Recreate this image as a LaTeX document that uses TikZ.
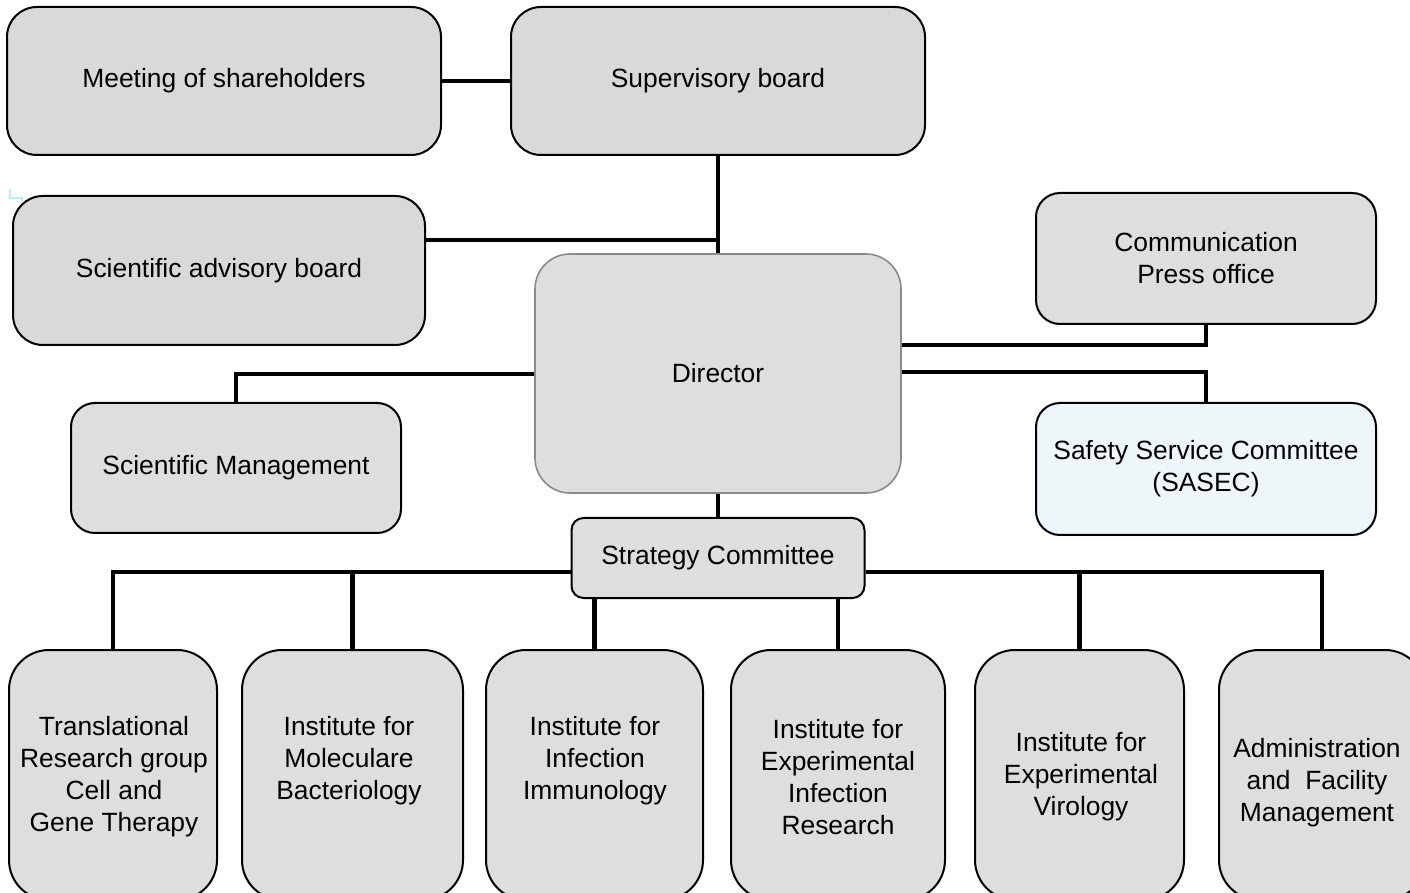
\documentclass[tikz,border=0pt]{standalone}
\usepackage{fontspec}
\setmainfont{Liberation Sans}
\usetikzlibrary{positioning}
\definecolor{boxgray}{HTML}{D9D9D9}
\definecolor{unitgray}{HTML}{DEDEDE}
\definecolor{safetyblue}{HTML}{EEF6F9}
\definecolor{dirborder}{HTML}{8A8A8A}

\tikzset{
  orgbox/.style={draw=black, line width=1pt, fill=boxgray, align=center, inner sep=0pt, rounded corners=15pt},
  unitbox/.style={orgbox, fill=unitgray, minimum height=125pt, rounded corners=20pt},
  boxtext/.style={align=center, inner sep=0pt},
  conn/.style={line width=2.4pt},
}

\begin{document}
\begin{tikzpicture}[x=0.5pt, y=-0.5pt, font=\fontsize{13.2}{16}\selectfont]
  \clip (0,0) rectangle (1410,893);
  \fill[white] (0,0) rectangle (1410,893);

  % top level
  \node[orgbox, minimum width=217pt, minimum height=74pt] (msh) at (224,81) {Meeting of shareholders};
  \node[orgbox, minimum width=207pt, minimum height=74pt] (sb) at (718,81) {Supervisory board};
  \node[orgbox, minimum width=206pt, minimum height=74.5pt] (sab) at (219,270.5) {Scientific advisory board};
  \node[orgbox, fill=unitgray, draw=dirborder, line width=0.8pt, rounded corners=17.5pt,
        minimum width=183pt, minimum height=119.5pt] (dir) at (718,373.5) {Director};
  \node[orgbox, fill=unitgray, rounded corners=12pt, minimum width=170pt, minimum height=65.5pt] (cpo) at (1206,258.5) {Communication\\Press office};
  \node[orgbox, fill=safetyblue, rounded corners=12pt, minimum width=170pt, minimum height=66pt] (sasec) at (1206,469) {Safety Service Committee\\(SASEC)};
  \node[orgbox, fill=unitgray, rounded corners=12pt, minimum width=165pt, minimum height=65pt] (smg) at (236,468) {Scientific Management};
  \node[orgbox, fill=unitgray, rounded corners=6pt, minimum width=146.5pt, minimum height=40pt] (sc) at (718,558) {Strategy Committee};

  % units
  \foreach \nm/\cx/\w/\tx/\ty/\txt in {
      trg/113/104/114/777/{Translational\\Research group\\Cell and\\Gene Therapy},
      imb/352.5/110.5/349/761/{Institute for\\Moleculare\\Bacteriology},
      iii/594.5/108.5/595/761/{Institute for\\Infection\\Immunology},
      ieir/838/107/838/777/{Institute for\\Experimental\\Infection\\Research},
      iev/1079.5/104.5/1081/777/{Institute for\\Experimental\\Virology},
      afm/1322/103/1317/783/{Administration\\and\ \ Facility\\Management}}
  {
    \node[unitbox, minimum width=\w pt] (\nm) at (\cx,775) {};
    \node[boxtext] (\nm-t) at (\tx,\ty) {\txt};
  }

  % connectors
  \coordinate (jsab) at (718,240);
  \coordinate (jcpo) at (1206,345);
  \coordinate (jsas) at (1206,372);
  \coordinate (jsmg) at (236,374);
  \coordinate (busl) at (113,572);
  \coordinate (busr) at (1322,572);

  \draw[line width=2pt] (msh.east) -- (sb.west);
  \draw[conn] (sb.south) -- (dir.north);
  \draw[line width=1.6pt] (jsab -| sab.east) -- (jsab);
  \draw[conn] (jcpo -| dir.east) -- (jcpo) -- (cpo.south);
  \draw[conn] (jsas -| dir.east) -- (jsas) -- (sasec.north);
  \draw[conn] (jsmg -| dir.west) -- (jsmg) -- (smg.north);
  \draw[conn] (dir.south) -- (sc.north);

  \draw[conn] (busl -| sc.west) -- (busl) -- (trg.north);
  \draw[conn] (imb.north |- busl) -- (imb.north);
  \draw[conn] (iii.north |- sc.south) -- (iii.north);
  \draw[conn] (ieir.north |- sc.south) -- (ieir.north);
  \draw[conn] (busr -| sc.east) -- (busr) -- (afm.north);
  \draw[conn] (iev.north |- busr) -- (iev.north);

  % stray mark
  \draw[cyan!25, line width=0.6pt] (10,189) -- (10,198) -- (22,198) -- (22,201);
\end{tikzpicture}
\end{document}
